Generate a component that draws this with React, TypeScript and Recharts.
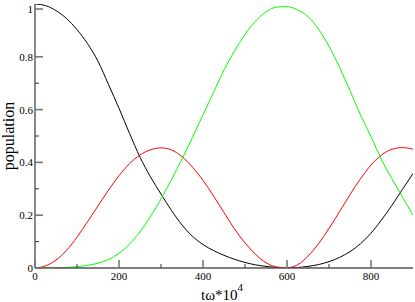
import { LineChart, Line, XAxis, YAxis, Label } from "recharts";

// time axis (t·ω·10^4) and the three level populations
const times = [
  0, 25, 50, 75, 100, 125, 150, 175, 200, 225, 250, 275, 300, 325, 350, 375,
  400, 425, 450, 475, 500, 525, 550, 575, 600, 625, 650, 675, 700, 725, 750,
  775, 800, 825, 850, 875, 900,
];
const black = [
  1.0, 0.994, 0.975, 0.945, 0.903, 0.85, 0.783, 0.695, 0.605, 0.51, 0.42,
  0.345, 0.28, 0.218, 0.163, 0.12, 0.089, 0.066, 0.048, 0.033, 0.021, 0.012,
  0.006, 0.002, 0.0, 0.002, 0.006, 0.013, 0.024, 0.04, 0.062, 0.092, 0.132,
  0.182, 0.238, 0.298, 0.358,
];
const red = [
  0, 0.008, 0.03, 0.067, 0.117, 0.175, 0.235, 0.295, 0.35, 0.395, 0.428,
  0.448, 0.455, 0.447, 0.422, 0.382, 0.332, 0.273, 0.21, 0.148, 0.095, 0.052,
  0.02, 0.004, 0.001, 0.012, 0.045, 0.092, 0.15, 0.213, 0.278, 0.338, 0.39,
  0.428, 0.45, 0.456, 0.45,
];
const green = [
  0, 0, 0.001, 0.002, 0.005, 0.01, 0.018, 0.032, 0.056, 0.09, 0.137, 0.195,
  0.262, 0.335, 0.413, 0.495, 0.58, 0.665, 0.75, 0.822, 0.885, 0.935, 0.97,
  0.988, 0.99, 0.978, 0.952, 0.905, 0.84, 0.76, 0.672, 0.58, 0.498, 0.41,
  0.338, 0.268, 0.2,
];

const xTicks = [0, 100, 200, 300, 400, 500, 600, 700, 800];
const yTicks = [0, 0.1, 0.2, 0.3, 0.4, 0.5, 0.6, 0.7, 0.8, 0.9, 1];

const data = times.map((t, i) => ({
  t,
  black: black[i],
  red: red[i],
  green: green[i],
}));

const FONT = "'Liberation Serif', 'Times New Roman', serif";
const FRAME = "#555";
const MAJOR = "#777";
const MINOR = "#333";

const isMajorX = (v: number) => v % 200 === 0;
const isMajorY = (v: number) => Math.round(v * 10) % 2 === 0;
const fmtY = (v: number) => (v === 0 ? "0" : v === 1 ? "1" : v.toFixed(1));

function BottomTick(props: any) {
  const { x, y, payload } = props;
  const major = isMajorX(payload.value);
  return (
    <g>
      <line
        x1={x}
        x2={x}
        y1={y}
        y2={y - (major ? 8 : 4)}
        stroke={major ? MAJOR : MINOR}
        strokeWidth={major ? 1.6 : 1}
      />
      {major && (
        <text
          x={x}
          y={y + 11.5}
          textAnchor="middle"
          style={{ fontFamily: FONT, fontSize: 11 }}
          fill="#000"
        >
          {payload.value}
        </text>
      )}
    </g>
  );
}

function TopTick(props: any) {
  const { x, y, payload } = props;
  const major = isMajorX(payload.value);
  return (
    <line
      x1={x}
      x2={x}
      y1={y}
      y2={y + (major ? 8 : 4)}
      stroke={major ? MAJOR : MINOR}
      strokeWidth={major ? 1.6 : 1}
    />
  );
}

function LeftTick(props: any) {
  const { x, y, payload } = props;
  const major = isMajorY(payload.value);
  return (
    <g>
      <line
        x1={x}
        x2={x + (major ? 8 : 4)}
        y1={y}
        y2={y}
        stroke={major ? MAJOR : MINOR}
        strokeWidth={major ? 1.6 : 1}
      />
      {major && (
        <text
          x={x - 2}
          y={y + 4}
          textAnchor="end"
          style={{ fontFamily: FONT, fontSize: 11 }}
          fill="#000"
        >
          {fmtY(payload.value)}
        </text>
      )}
    </g>
  );
}

function RightTick(props: any) {
  const { x, y, payload } = props;
  const major = isMajorY(payload.value);
  return (
    <line
      x1={x}
      x2={x - (major ? 8 : 4)}
      y1={y}
      y2={y}
      stroke={major ? MAJOR : MINOR}
      strokeWidth={major ? 1.6 : 1}
    />
  );
}

export default function App() {
  return (
    <div style={{ position: "absolute", left: 0, top: 0, background: "#fff" }}>
      <LineChart
        width={415}
        height={302}
        data={data}
        margin={{ top: 4, right: 2, left: 0, bottom: 0 }}
      >
        <XAxis
          dataKey="t"
          type="number"
          domain={[0, 900]}
          ticks={xTicks}
          tick={<BottomTick />}
          tickLine={false}
          tickSize={0}
          tickMargin={0}
          height={34}
          axisLine={{ stroke: FRAME, strokeWidth: 1.4 }}
          allowDataOverflow
        >
          <Label
            content={(p: any) => {
              const vb = p.viewBox;
              return (
                <text
                  x={vb.x + vb.width / 2 - 2}
                  y={300}
                  textAnchor="middle"
                  style={{ fontFamily: FONT, fontSize: 15 }}
                  fill="#000"
                >
                  tω*10
                  <tspan style={{ fontSize: 11 }} dy={-9}>
                    4
                  </tspan>
                </text>
              );
            }}
          />
        </XAxis>
        <XAxis
          xAxisId="top"
          orientation="top"
          dataKey="t"
          type="number"
          domain={[0, 900]}
          ticks={xTicks}
          tick={<TopTick />}
          tickLine={false}
          tickSize={0}
          tickMargin={0}
          height={0}
          axisLine={{ stroke: FRAME, strokeWidth: 1.4 }}
          allowDataOverflow
        />
        <YAxis
          type="number"
          domain={[0, 1]}
          ticks={yTicks}
          tick={<LeftTick />}
          tickLine={false}
          tickSize={0}
          tickMargin={0}
          width={35}
          axisLine={{ stroke: FRAME, strokeWidth: 1.4 }}
          allowDataOverflow
        >
          <Label
            content={(p: any) => {
              const vb = p.viewBox;
              const cy = vb.y + vb.height / 2;
              return (
                <text
                  x={14}
                  y={cy}
                  transform={`rotate(-90 14 ${cy})`}
                  textAnchor="middle"
                  style={{ fontFamily: FONT, fontSize: 16 }}
                  fill="#000"
                >
                  population
                </text>
              );
            }}
          />
        </YAxis>
        <YAxis
          yAxisId="right"
          orientation="right"
          type="number"
          domain={[0, 1]}
          ticks={yTicks}
          tick={<RightTick />}
          tickLine={false}
          tickSize={0}
          tickMargin={0}
          width={0}
          axisLine={{ stroke: FRAME, strokeWidth: 1.4 }}
          allowDataOverflow
        />
        <Line type="monotone" dataKey="black" stroke="#000" strokeWidth={1} dot={false} isAnimationActive={false} />
        <Line type="monotone" dataKey="red" stroke="#ff0000" strokeWidth={1} dot={false} isAnimationActive={false} />
        <Line type="monotone" dataKey="green" stroke="#00ff00" strokeWidth={1} dot={false} isAnimationActive={false} />
      </LineChart>
    </div>
  );
}
